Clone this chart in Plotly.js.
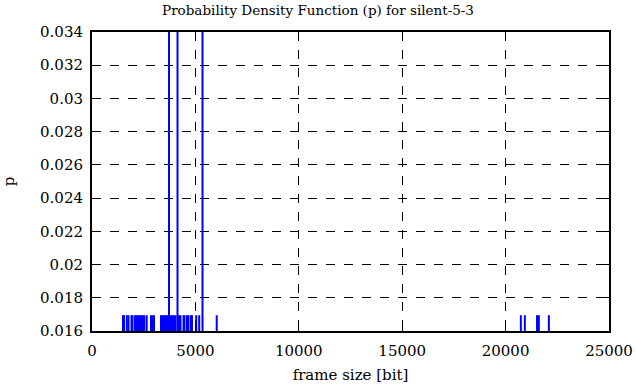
<!DOCTYPE html>
<html>
<head>
<meta charset="utf-8">
<script src="https://cdn.plot.ly/plotly-3.0.1.min.js"></script>
<style>html,body{margin:0;padding:0;background:#fff;}#chart{width:636px;height:387px;}</style>
</head>
<body>
<div id="chart"></div>
<script>
// frame sizes [bit] (impulse positions)
var frameSizes = [1499, 1548, 1683, 1765, 1910, 1959, 2079, 2152, 2225, 2321, 2394, 2466, 2529, 2645,
  2853, 2926, 2998, 3337, 3409, 3482, 3555, 3603, 3675, 3724, 3796, 3869, 3966, 4038, 4135,
  4207, 4280, 4425, 4473, 4594, 4667, 4788, 4836, 5039, 5184, 5344, 6030,
  20737, 20930, 21520, 21607, 22091];
// probability for each frame size
var probs = [0.01695, 0.01695, 0.01695, 0.01695, 0.01695, 0.01695, 0.01695, 0.01695, 0.01695, 0.01695, 0.01695, 0.01695, 0.01695, 0.01695,
  0.01695, 0.01695, 0.01695, 0.01695, 0.01695, 0.01695, 0.01695, 0.01695, 0.01695, 0.0508, 0.01695, 0.01695, 0.01695, 0.01695, 0.0508,
  0.01695, 0.01695, 0.01695, 0.01695, 0.01695, 0.01695, 0.01695, 0.01695, 0.01695, 0.01695, 0.0508, 0.01695,
  0.01695, 0.01695, 0.01695, 0.01695, 0.01695];
var xTickVals = [0, 5000, 10000, 15000, 20000, 25000];
var xTickText = ['0', '5000', '10000', '15000', '20000', '25000'];
var yTickVals = [0.016, 0.018, 0.020, 0.022, 0.024, 0.026, 0.028, 0.030, 0.032, 0.034];
var yTickText = ['0.016', '0.018', '0.02', '0.022', '0.024', '0.026', '0.028', '0.03', '0.032', '0.034'];
var yBase = 0.016;

var xs = [], ys = [];
for (var i = 0; i < frameSizes.length; i++) {
  xs.push(frameSizes[i], frameSizes[i], null);
  ys.push(yBase, probs[i], null);
}
var font = {family: 'DejaVu Serif', size: 15, color: '#000'};
var trace = {x: xs, y: ys, type: 'scatter', mode: 'lines', line: {color: '#0000ff', width: 2}, hoverinfo: 'skip', showlegend: false};
var layout = {
  width: 636, height: 387,
  margin: {l: 92, r: 27, t: 32, b: 56},
  paper_bgcolor: '#fff', plot_bgcolor: '#fff',
  font: font,
  title: {text: 'Probability Density Function (p) for silent-5-3', font: {family: 'DejaVu Serif', size: 13.5, color: '#000'}, x: 0.5, xanchor: 'center', y: 0.985, yanchor: 'top'},
  xaxis: {range: [0, 25000], tickvals: xTickVals, ticktext: xTickText, ticks: 'inside', ticklen: 8, tickcolor: '#000', tickwidth: 1,
    showline: true, linecolor: '#000', linewidth: 2, mirror: 'ticks', showgrid: true, gridcolor: '#000', griddash: 'dash', gridwidth: 1,
    zeroline: false, ticklabelstandoff: 5, title: {text: 'frame size [bit]', font: font, standoff: 10}, tickfont: font},
  yaxis: {range: [0.016, 0.034], tickvals: yTickVals, ticktext: yTickText, ticks: 'inside', ticklen: 8, tickcolor: '#000', tickwidth: 1,
    showline: true, linecolor: '#000', linewidth: 2, mirror: 'ticks', showgrid: true, gridcolor: '#000', griddash: 'dash', gridwidth: 1,
    zeroline: false, ticklabelstandoff: 4, title: {text: 'p', font: font, standoff: 22}, tickfont: font}
};
Plotly.newPlot('chart', [trace], layout, {staticPlot: true, displayModeBar: false});
</script>
</body>
</html>
